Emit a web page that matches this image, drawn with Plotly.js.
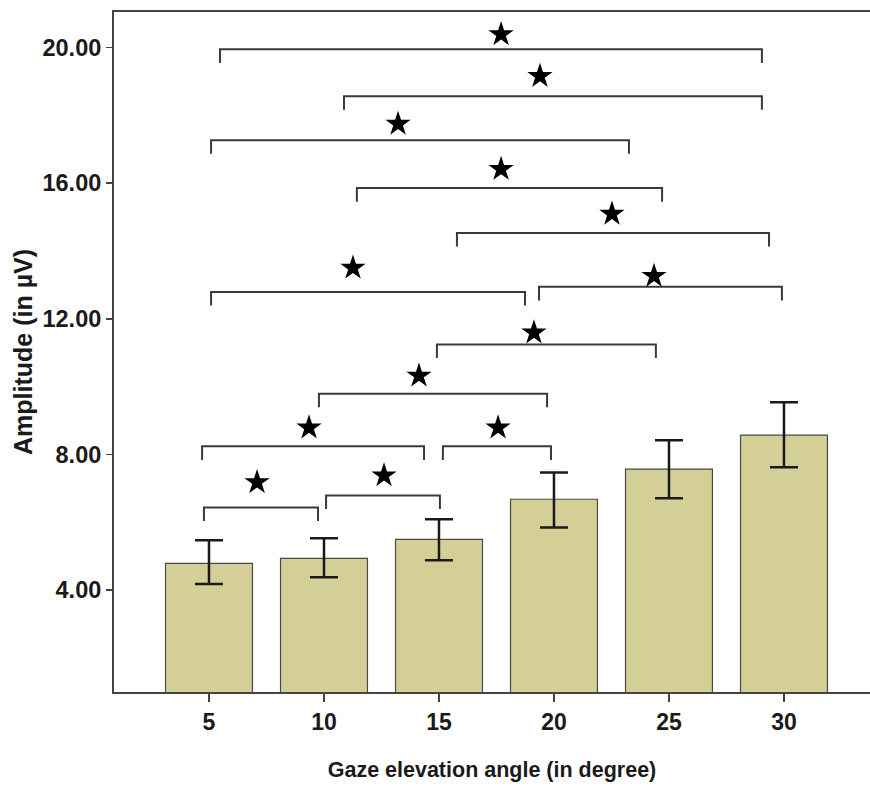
<!DOCTYPE html>
<html><head><meta charset="utf-8">
<script src="https://cdn.plot.ly/plotly-3.0.1.min.js"></script>
<style>html,body{margin:0;padding:0;background:#fff}#chart{width:870px;height:787px}</style>
</head><body><div id="chart"></div>
<script>
// Data
const angles = [5, 10, 15, 20, 25, 30];
const amplitude = [4.79, 4.94, 5.50, 6.68, 7.57, 8.57];
const errUpper = [0.68, 0.59, 0.59, 0.79, 0.85, 0.97];
const errLower = [0.61, 0.56, 0.62, 0.83, 0.86, 0.95];
const yTicks = [4, 8, 12, 16, 20];
const yTickLabels = ["4.00", "8.00", "12.00", "16.00", "20.00"];

// Significance brackets (x in angle units, y in µV)
const bracketFrom = [5.48, 10.87, 5.09, 11.43, 15.78, 5.09, 19.35, 14.91, 9.78, 4.70, 15.17, 4.78, 10.09];
const bracketTo   = [29.04, 29.04, 23.26, 24.70, 29.35, 18.74, 29.91, 24.43, 19.70, 14.35, 19.87, 9.74, 15.04];
const bracketY    = [19.94, 18.56, 17.26, 15.85, 14.53, 12.79, 12.94, 11.24, 9.79, 8.24, 8.24, 6.44, 6.79];
const starX       = [17.70, 19.39, 13.22, 17.70, 22.52, 11.26, 24.35, 19.13, 14.13, 9.35, 17.57, 7.09, 12.61];
const starY       = [20.38, 19.15, 17.74, 16.41, 15.09, 13.50, 13.26, 11.59, 10.32, 8.79, 8.79, 7.18, 7.38];
const tickDrop = 0.4;

const traces = [];
traces.push({
  type: 'bar', x: angles, y: amplitude, width: 3.78,
  marker: {color: '#d4cf97', line: {color: '#4a4a40', width: 1.2}},
  error_y: {type: 'data', symmetric: false, array: errUpper, arrayminus: errLower,
            color: '#1a1a1a', thickness: 2.5, width: 14},
  hoverinfo: 'none', showlegend: false
});
// bracket lines
const bx = [], by = [];
for (let i = 0; i < bracketFrom.length; i++) {
  bx.push(bracketFrom[i], bracketFrom[i], bracketTo[i], bracketTo[i], null);
  by.push(bracketY[i] - tickDrop, bracketY[i], bracketY[i], bracketY[i] - tickDrop, null);
}
traces.push({type: 'scatter', mode: 'lines', x: bx, y: by,
  line: {color: '#3a3a3a', width: 2}, hoverinfo: 'none', showlegend: false});
traces.push({type: 'scatter', mode: 'markers', x: starX, y: starY,
  marker: {symbol: 'star', size: 19, color: '#000'}, hoverinfo: 'none', showlegend: false});

const fam = 'Liberation Sans, Arial, sans-serif';
const layout = {
  width: 870, height: 787,
  margin: {l: 114, r: 0, t: 12, b: 95},
  paper_bgcolor: '#fff', plot_bgcolor: '#fff',
  font: {family: fam, color: '#1a1a1a'},
  xaxis: {
    range: [0.87, 33.74], tickvals: angles, ticktext: angles.map(v => '<b>' + v + '</b>'),
    showline: true, linecolor: '#444', linewidth: 2, mirror: true,
    ticks: 'outside', ticklen: 8, tickwidth: 1.5, tickcolor: '#444',
    showgrid: false, zeroline: false,
    tickfont: {size: 23, family: fam, color: '#1a1a1a'},
    title: {text: '<b>Gaze elevation angle (in degree)</b>', font: {size: 21.5, family: fam, color: '#1a1a1a'}, standoff: 28}
  },
  yaxis: {
    range: [1, 21.04], tickvals: yTicks, ticktext: yTickLabels.map(t => '<b>' + t + '</b>'),
    showline: true, linecolor: '#444', linewidth: 2,
    ticks: 'outside', ticklen: 6, tickwidth: 1.5, tickcolor: '#444',
    showgrid: false, zeroline: false,
    tickfont: {size: 23.5, family: fam, color: '#1a1a1a'},
    title: {text: '<b>Amplitude (in µV)</b>', font: {size: 25, family: fam, color: '#1a1a1a'}, standoff: 3}
  }
};
Plotly.newPlot('chart', traces, layout, {staticPlot: true, displayModeBar: false});
</script></body></html>
